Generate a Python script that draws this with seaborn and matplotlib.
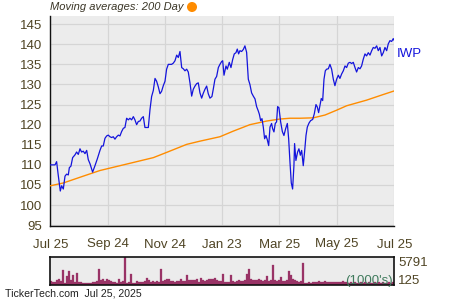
import numpy as np
import pandas as pd
import matplotlib
matplotlib.use("Agg")
import matplotlib.pyplot as plt
import seaborn as sns
from matplotlib.ticker import MultipleLocator, FixedLocator

# ---------------- data ----------------
price_day = [0, 5, 6.7, 8.5, 10.6, 12, 13.8, 15.6, 17.3, 19.1, 20.2, 21.9, 23.7, 26.2, 27.9, 29.7, 31.5, 33.2,
             35, 36.8, 38.6, 40.3, 42.1, 44.9, 47.4, 49.9, 52.7, 54.5, 56.2, 58, 59.8, 61.5, 63.3, 65.1, 66.8,
             68.6, 70.4, 72.2, 73.9, 75.7, 77.5, 79.2, 81, 82.8, 84.5, 86.3, 88.1, 89.8, 91.6, 93.4, 95.1, 96.9,
             98.7, 100.4, 102.2, 104, 105.8, 107.5,
             109.3, 111.1, 112.8, 114.6, 116.4, 118.1, 119.9, 121.7, 123.4, 125.2, 127, 128.7, 130.5, 132.3,
             134.1, 135.8, 137.6, 139.4, 141.1, 142.9, 144.7, 146.4, 148.2, 150, 151.7, 153.5, 155.3, 157, 158.8,
             160.6, 162.3, 164.1, 165.9, 167.6, 169.4, 171.5, 172.9, 174.7, 176.5, 178.3, 180, 181.8, 182.9,
             184.3, 186.4, 187.8, 189.9, 191.7, 193.5, 195.2, 197, 198.4, 199.8, 201.2, 203, 204.8, 206.5, 208.3,
             210.1, 211.8, 213.6, 215.4, 217.2,
             218.9, 220.7, 221.8, 223.2, 224.6, 226, 227.4, 228.8, 230.2, 231.7, 233.1, 234.8, 235.9, 237.3,
             238.7, 240.1, 241.2, 242.6, 244.4, 246.2, 247.9, 249.7, 251.5, 252.9, 254.3, 255.7, 257.1, 258.5,
             259.2, 260.6, 262.4, 263.8, 265.3, 266.7, 268.4, 269.8, 271.3, 272.7, 274.5, 276.2, 278.4, 280.1,
             281.9, 283.3, 284.7, 286.1, 287.5, 289,
             290.4, 291.8, 293.2, 295, 296.7, 298.5, 300.3, 302, 303.8, 305.6, 307.3, 309.1, 310.9, 312.7, 314.4,
             316.2, 318, 319.7, 321.5, 323.3, 325, 326.8, 328.6, 330.3, 332.1, 333.9, 335.6, 337.4, 339.2, 341,
             342.7, 344.5, 346.3, 348, 349.8, 351.6, 353.3, 355.1, 356.9, 358.6, 360.4, 362.2, 363.9, 365]
price = [110, 110, 110.8, 107.3, 103.5, 104.8, 104, 107.2, 107.7, 107.5, 109.3, 109.7, 111.8, 112.5, 113.2, 112.6,
         114, 113.2, 113.4, 112.8, 113.6, 111.3, 110.3, 108.2, 109.8, 111.5, 113.6, 114.7, 114.7, 116.6, 117.2,
         117.4, 117, 116.8, 117, 116.4, 117, 117.4, 117.2, 118.3, 119.1, 119.3, 121.6, 121.2, 121.6, 121.2, 122,
         121.2, 120, 120.8, 120.9, 121.6, 122, 119.3, 119.3, 119.3, 123.8, 127,
         128.5, 131.5, 130.8, 129.4, 127.7, 128.3, 129.7, 130.8, 133.8, 135, 135, 135, 135.3, 135.9, 137.3, 136.7,
         138.2, 134.2, 133.9, 133.4, 133.8, 133.1, 130.4, 127.1, 128.8, 129.6, 130.2, 130.4, 127.9,
         126.6, 127.8, 128.8, 129.6, 127.7, 126.6, 127, 128.8, 131.3, 132, 134.2, 135, 135.7, 135.9, 132.3, 134.6,
         133.8, 135.5, 134.2, 136.2, 137.6, 137.9, 138.8, 137.6, 138.4, 138.2, 138.7, 139.6, 138, 131.3, 130,
         127.9, 127.1, 126.4,
         124.5, 123.4, 122.6, 121, 121.5, 119.4, 116.5, 117.3, 116.3, 114.8, 119.4, 120.3, 119, 118.2, 120.3,
         120.7, 124.5, 124.2, 120.7, 118.3, 117.3, 119, 120.3, 116.5, 110.7, 105.5, 104, 109.8, 115.3, 111.1,
         113.2, 114, 112.4, 113.6, 109.8, 113.2, 117.3, 119.4, 120.4, 121, 121.3, 122.7, 125, 124.4, 123, 124.8,
         126.5, 126,
         131.3, 133.4, 133.8, 133.9, 135, 133.8, 131.3, 129.7, 131.3, 132.3, 131.5, 132.6, 133.4, 134.6, 134.2,
         135.3, 135.5, 135.2, 135.5, 134.2, 133.1, 134.2, 133.9, 134.6, 136.3, 137.6, 137.1, 137.9, 137.3, 138.4,
         139.2, 139, 139.6, 138.4, 139.2, 137.1, 137.9, 139.2, 138.4, 140.1, 140.9, 140.7, 141.4, 140.9]

ma_day = [0, 13.8, 35, 52.7, 88.1, 109.3, 123.4, 144.7, 158.8, 180, 194.2, 211.8, 229.5, 243.7, 254.3, 265,
          279.1, 291.5, 303.8, 314.4, 335.6, 353.3, 365]
ma200 = [104.8, 105.5, 107.2, 108.6, 110.6, 111.8, 113.1, 115.1, 115.9, 117, 118.4, 120, 120.9, 121.4, 121.6,
         121.6, 121.7, 122.4, 123.6, 124.7, 126.1, 127.5, 128.4]

volume = [700, 560, 560, 1000, 1250, 770, 3000, 420, 1750, 2800, 900, 1950, 560, 2500, 560, 490, 350, 420, 350, 420,
          350, 560, 490, 700, 3350, 900, 1250, 770, 1250, 1050, 770, 490, 490, 420, 1250, 560, 770, 5791, 420, 490,
          2160, 350, 280, 770, 560, 490, 560, 700, 1460, 900, 630, 700, 560, 700, 630, 3350, 840, 1050, 1250, 1250,
          700, 700, 630, 700, 700, 1250, 770, 770, 1950, 980, 1050, 900, 1050, 1250, 560, 1460, 900, 840, 900, 1190,
          1190, 1120, 1460, 1050, 700, 700, 2300, 630, 630, 560, 1950, 700, 630, 770, 1050, 770, 770, 900, 2160,
          3350, 1250, 900, 1050, 900, 1250, 900, 840, 1050, 1750, 840, 900, 4050, 900, 840, 1050, 1600, 770, 770,
          1050, 2860, 1950, 1250, 900, 770, 560, 700, 4540, 420, 420, 490, 420, 490, 490, 560, 770, 490, 560, 770,
          490, 560, 630, 490, 560, 560, 490, 560, 700, 490, 490, 420, 490, 420, 560, 420, 350, 490, 420, 560, 420,
          490, 420, 350, 490, 420, 560, 420, 490, 420, 350, 490, 420, 490]

tick_days = [0, 61, 122, 182, 243, 304, 365]
tick_labels = ["Jul 25", "Sep 24", "Nov 24", "Jan 23", "Mar 25", "May 25", "Jul 25"]
vol_max_label = "5791"
vol_min_label = "125"
ticker = "IWP"

# ---------------- style ----------------
sns.set_style("white")
plt.rcParams["font.family"] = ["Liberation Sans", "DejaVu Sans"]

BG = "#ececec"
GRID = "#d5d5d5"
TXT = "#4f4424"
BLUE = "#1414dc"
ORANGE = "#ff8c00"
MAROON = "#993366"

fig = plt.figure(figsize=(4.5, 3.0), dpi=100)
ax = fig.add_axes([50.3 / 450, 74 / 300, 344 / 450, 210.3 / 300])
ax.set_facecolor(BG)

price_df = pd.DataFrame({"day": price_day, "price": price})
ma_df = pd.DataFrame({"day": ma_day, "ma": ma200})
sns.lineplot(data=ma_df, x="day", y="ma", ax=ax, color=ORANGE, lw=1.0, zorder=3)
sns.lineplot(data=price_df, x="day", y="price", ax=ax, color=BLUE, lw=0.9, zorder=4)

ax.set_xlim(0, 365)
ax.set_ylim(94.8, 147.1)
ax.set_xlabel("")
ax.set_ylabel("")
ax.yaxis.set_major_locator(MultipleLocator(5))
ax.yaxis.set_minor_locator(MultipleLocator(2.5))
ax.xaxis.set_major_locator(FixedLocator(tick_days))
ax.set_xticklabels(tick_labels)
ax.xaxis.set_minor_locator(FixedLocator([(a + b) / 2 for a, b in zip(tick_days[:-1], tick_days[1:])]))
ax.grid(True, which="major", color=GRID, lw=0.9)
ax.set_axisbelow(True)
for s in ["top", "right"]:
    ax.spines[s].set_visible(False)
for s in ["left", "bottom"]:
    ax.spines[s].set_color("#111111")
    ax.spines[s].set_linewidth(1.0)
ax.tick_params(axis="both", which="both", direction="out", colors="#111111", labelcolor=TXT, labelsize=9.5)
ax.tick_params(axis="y", which="major", length=3, pad=3)
ax.tick_params(axis="y", which="minor", length=2.5)
ax.tick_params(axis="x", which="major", length=3, pad=6)
ax.tick_params(axis="x", which="minor", length=3)

ax.text(1.008, 0.817, ticker, transform=ax.transAxes, color=BLUE, fontsize=9.5, va="center", ha="left")

fig.text(50 / 450, 1 - 7.5 / 300, "Moving averages: 200 Day", fontsize=8, style="italic",
         color="#3a3526", va="center", ha="left")
fig.patches.append(matplotlib.patches.Circle((192, 300 - 7), 4.3, transform=None, color=ORANGE))

# ---------------- volume ----------------
vax = fig.add_axes([50.3 / 450, 15.2 / 300, 344 / 450, 28.1 / 300])
vax.set_facecolor(BG)
n = len(volume)
step = 365 / n
vx = [(i + 0.5) * step for i in range(n)]
vax.bar(vx, volume, width=step, color=MAROON, edgecolor=MAROON, linewidth=0.2)
vax.set_xlim(0, 365)
vax.set_ylim(0, 5791)
vax.set_xticks([])
vax.set_yticks([])
for s in vax.spines.values():
    s.set_visible(True)
    s.set_color("#111111")
    s.set_linewidth(1.2)
vax.text(1.012, 0.78, vol_max_label, transform=vax.transAxes, fontsize=9.5, color=TXT, va="center", ha="left")
vax.text(1.012, 0.13, vol_min_label, transform=vax.transAxes, fontsize=9.5, color=TXT, va="center", ha="left")
vax.text(0.995, 0.13, "(1000's)", transform=vax.transAxes, fontsize=9.5, color="#3f7a5c", va="center", ha="right")

fig.text(5 / 450, 1 - 294 / 300, "TickerTech.com  Jul 25, 2025", fontsize=7.6, color="#222222",
         va="center", ha="left")

fig.savefig("out.png", dpi=100)
